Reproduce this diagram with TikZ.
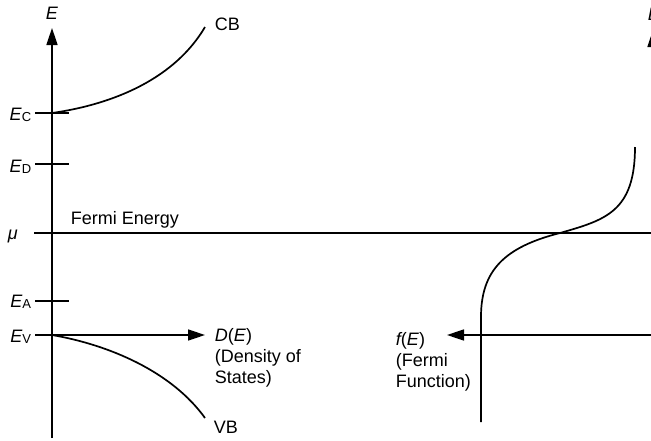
\documentclass[tikz,border=0pt]{standalone}
\usepackage{fontspec}
\setmainfont{Liberation Sans}
\usetikzlibrary{arrows.meta}
\newcommand{\Elevel}[1]{\textit{E}\raisebox{-1.5pt}{\fontsize{13}{13}\selectfont #1}}

\begin{document}
\begin{tikzpicture}[x=1pt, y=-1pt, line width=1.7pt,
    lbl/.style={inner sep=0pt, font=\fontsize{18}{21}\selectfont},
    axisarrow/.style={-{Triangle[length=17pt, width=11pt]}}]
    \useasboundingbox (0,0) rectangle (651,440);
    \clip (0,0) rectangle (651,440);

    % Axes
    \coordinate (lbot) at (52,438);
    \coordinate (ltop) at (52,28);
    \coordinate (rbot) at (653,438);
    \coordinate (rtop) at (653,30);
    \coordinate (ev) at (52,335);
    \coordinate (dtip) at (205,335);
    \coordinate (fstart) at (653,335);
    \coordinate (ftip) at (447,335);
    \draw[axisarrow] (lbot) -- (ltop);
    \draw[axisarrow] (rbot) -- (rtop);
    \node[lbl, anchor=base] (eleft) at (52,19) {\textit{E}};
    \node[lbl, anchor=base west] (eright) at (647,20) {\textit{E}};

    % Levels
    \draw (35,113) -- (69,113);
    \draw (35,164) -- (69,164);
    \draw (35,301) -- (69,301);
    \draw (35,335) -- (ev);
    \coordinate (mul) at (34,233);
    \coordinate (mur) at (660,233);
    \draw[line width=1.4pt] (mul) -- (mur);
    \node[lbl, anchor=base east] (ec) at (32,120) {\Elevel{C}};
    \node[lbl, anchor=base east] (ed) at (32,172) {\Elevel{D}};
    \node[lbl, anchor=base west] (mu) at (7,239) {\textit{μ}};
    \node[lbl, anchor=base east] (ea) at (32,307) {\Elevel{A}};
    \node[lbl, anchor=base east] (evl) at (32,342) {\Elevel{V}};
    \node[lbl, anchor=base west] (fermi) at (70,224) {Fermi Energy};

    % Bands
    \coordinate (ec0) at (52,113);
    \coordinate (cbend) at (205,27);
    \coordinate (vbend) at (205,418);
    \draw (ec0) .. controls (115,104) and (175,78) .. (cbend);
    \draw (ev) .. controls (110,345) and (172,372) .. (vbend);
    \node[lbl, anchor=base west] (cb) at (214,30) {CB};
    \node[lbl, anchor=base west] (vb) at (213,433) {VB};

    % Density of states and Fermi function
    \draw[axisarrow] (ev) -- (dtip);
    \draw[axisarrow] (fstart) -- (ftip);
    \node[lbl, anchor=base west] (dos) at (214,341) {\textit{D}(\textit{E})};
    \node[lbl, anchor=base west] (dos2) at (214,362) {(Density of};
    \node[lbl, anchor=base west] (dos3) at (214,383) {States)};
    \node[lbl, anchor=base west] (ff) at (395,345) {\textit{f}\kern-1.5pt(\textit{E})};
    \node[lbl, anchor=base west] (ff2) at (395,366) {(Fermi};
    \node[lbl, anchor=base west] (ff3) at (395,387) {Function)};

    % Fermi curve
    \coordinate (fbot) at (481,422);
    \coordinate (fmu) at (560,233);
    \coordinate (ftop) at (635,147);
    \draw (fbot) -- (481,317) .. controls (481,270) and (505,247) .. (fmu)
        .. controls (605,220) and (635,212) .. (ftop);
\end{tikzpicture}
\end{document}
